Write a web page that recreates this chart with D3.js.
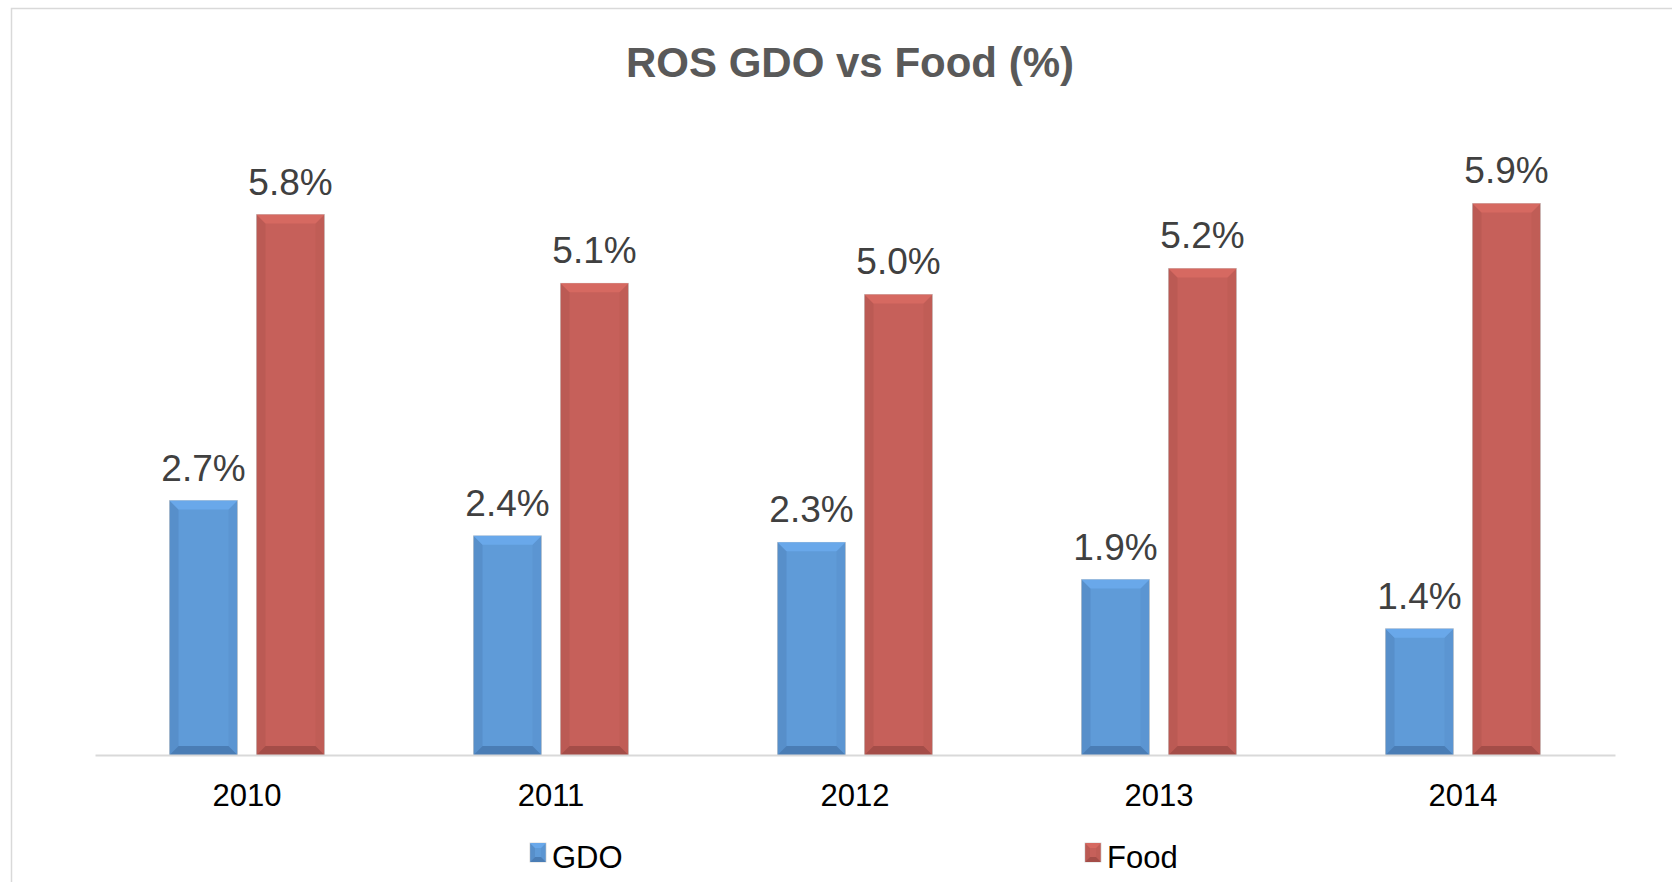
<!DOCTYPE html>
<html>
<head>
<meta charset="utf-8">
<script src="https://cdn.jsdelivr.net/npm/d3@7"></script>
<style>
  body { margin: 0; background: #fff; }
  svg { display: block; font-family: "Liberation Sans", Arial, sans-serif; }
</style>
</head>
<body>
<div id="chart"></div>
<script>
// data (percent)
const years = ["2010", "2011", "2012", "2013", "2014"];
const gdo = [2.74, 2.36, 2.29, 1.89, 1.36];
const food = [5.82, 5.08, 4.96, 5.24, 5.94];
const seriesNames = ["GDO", "Food"];

const width = 1672, height = 882;
const margin = { left: 95, right: 57, top: 105, bottom: 127 };
const baseY = height - margin.bottom;

const colors = {
    GDO: { fill: "#5F9BD8", top: "#69A8EA", bottom: "#4A7DB5", side: "#5287C2" },
    Food: { fill: "#C6605A", top: "#D66961", bottom: "#A44D48", side: "#B45650" }
};

const svg = d3.select("#chart")
    .append("svg")
    .attr("width", width)
    .attr("height", height);

// outer frame
svg.append("rect")
    .attr("x", 11.5).attr("y", 8.5)
    .attr("width", 1700).attr("height", 900)
    .attr("fill", "none")
    .attr("stroke", "#D9D9D9")
    .attr("stroke-width", 1.5);

svg.append("text")
    .attr("x", 850)
    .attr("y", 77)
    .attr("text-anchor", "middle")
    .attr("font-size", 42)
    .attr("font-weight", "bold")
    .attr("fill", "#595959")
    .text("ROS GDO vs Food (%)");

const x0 = d3.scaleBand()
    .domain(years)
    .range([margin.left, width - margin.right])
    .paddingInner(0)
    .paddingOuter(0);

const x1 = d3.scaleBand()
    .domain(seriesNames)
    .range([0, x0.bandwidth()])
    .paddingInner(0.218)
    .paddingOuter(0.856);

const y = d3.scaleLinear()
    .domain([0, 7])
    .range([baseY, margin.top]);

const rows = years.map((yr, i) => ({ year: yr, values: [
    { key: "GDO", value: gdo[i] },
    { key: "Food", value: food[i] }
] }));

// bevelled rectangle, like the office chart style
const bevelRect = (g, bx, by, bw, bh, c, b) => {
    g.append("rect")
        .attr("x", bx).attr("y", by).attr("width", bw).attr("height", bh)
        .attr("fill", c.fill)
        .attr("stroke", "#cfcfcf").attr("stroke-width", 0.8);
    const pts = (arr) => arr.map(p => p.join(",")).join(" ");
    g.append("polygon")
        .attr("points", pts([[bx, by], [bx + b, by + b], [bx + b, by + bh - b], [bx, by + bh]]))
        .attr("fill", c.side).attr("opacity", 0.6);
    g.append("polygon")
        .attr("points", pts([[bx + bw, by], [bx + bw - b, by + b], [bx + bw - b, by + bh - b], [bx + bw, by + bh]]))
        .attr("fill", c.side).attr("opacity", 0.3);
    g.append("polygon")
        .attr("points", pts([[bx, by], [bx + bw, by], [bx + bw - b, by + b], [bx + b, by + b]]))
        .attr("fill", c.top);
    g.append("polygon")
        .attr("points", pts([[bx, by + bh], [bx + bw, by + bh], [bx + bw - b, by + bh - b], [bx + b, by + bh - b]]))
        .attr("fill", c.bottom);
};

const groups = svg.append("g")
    .selectAll("g")
    .data(rows)
    .join("g")
    .attr("transform", d => `translate(${x0(d.year)},0)`);

groups.each(function(d) {
    const g = d3.select(this);
    d.values.forEach(v => {
        const bx = x1(v.key);
        const by = y(v.value);
        bevelRect(g, bx, by, x1.bandwidth(), baseY - by, colors[v.key], 9);
        g.append("text")
            .attr("x", bx + x1.bandwidth() / 2)
            .attr("y", by - 20)
            .attr("text-anchor", "middle")
            .attr("font-size", 37)
            .attr("fill", "#404040")
            .text(v.value.toFixed(1) + "%");
    });
});

// x axis
const xAxis = svg.append("g")
    .attr("transform", `translate(0,${baseY})`)
    .call(d3.axisBottom(x0).tickSize(0).tickPadding(29));
xAxis.select(".domain")
    .attr("stroke", "#D9D9D9")
    .attr("stroke-width", 2);
xAxis.selectAll("text")
    .attr("font-size", 31)
    .attr("font-family", "Liberation Sans, Arial, sans-serif")
    .attr("fill", "#000");

// legend
const legendX = [530, 1085];
const legend = svg.append("g")
    .selectAll("g")
    .data(seriesNames)
    .join("g")
    .attr("transform", (d, i) => `translate(${legendX[i]},843)`);

legend.each(function(d) {
    bevelRect(d3.select(this), 0, 0, 16, 19, colors[d], 5);
});
legend.append("text")
    .attr("x", 22)
    .attr("y", 25)
    .attr("font-size", 31)
    .attr("fill", "#000")
    .text(d => d);
</script>
</body>
</html>
